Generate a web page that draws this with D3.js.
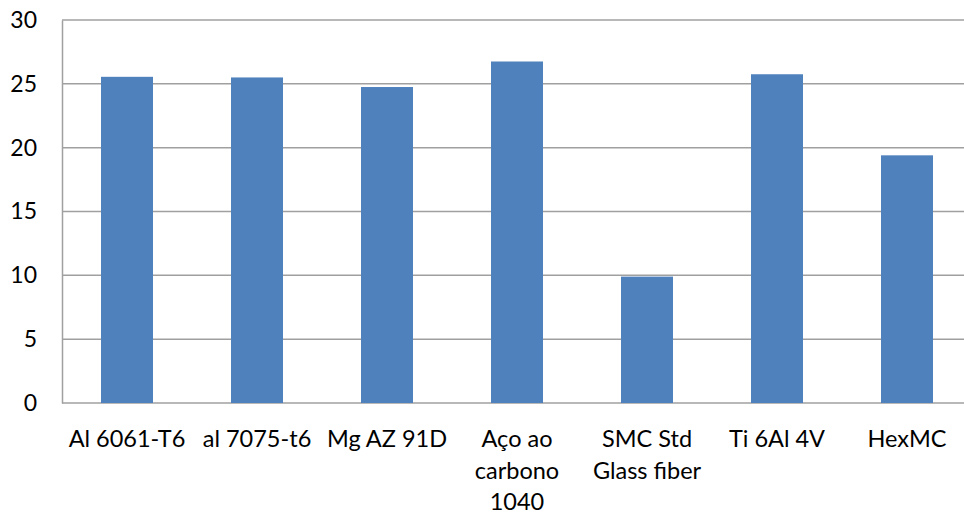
<!DOCTYPE html>
<html>
<head>
<meta charset="utf-8">
<script src="https://cdn.jsdelivr.net/npm/d3@7"></script>
<style>
  html, body { margin: 0; padding: 0; background: #fff; overflow: hidden; }
  svg { display: block; }
  text { font-family: "Lato", "Open Sans", sans-serif; fill: #000; }
</style>
</head>
<body>
<svg id="chart" width="964" height="516"></svg>
<script>
// Material names (each entry split into its display lines) and their values
const categories = [
  ["Al 6061-T6"],
  ["al 7075-t6"],
  ["Mg AZ 91D"],
  ["Aço ao", "carbono", "1040"],
  ["SMC Std", "Glass fiber"],
  ["Ti 6Al 4V"],
  ["HexMC"]
];
const values = [25.55, 25.5, 24.75, 26.75, 9.9, 25.75, 19.4];
const yTicks = [0, 5, 10, 15, 20, 25, 30];

const svg = d3.select("#chart");
const W = 964, H = 516;
const plot = { left: 62, right: 972, top: 20, bottom: 403 };

// The category band runs a little past the right edge of the canvas
const x = d3.scaleBand()
  .domain(categories.map((c, i) => i))
  .range([plot.left, plot.right])
  .paddingInner(0.6)
  .paddingOuter(0.3);

const y = d3.scaleLinear()
  .domain([0, 30])
  .range([plot.bottom, plot.top]);

// Horizontal gridlines
svg.append("g")
  .selectAll("line")
  .data(yTicks)
  .join("line")
  .attr("x1", plot.left)
  .attr("x2", W)
  .attr("y1", d => y(d))
  .attr("y2", d => y(d))
  .attr("stroke", "#a0a0a0")
  .attr("stroke-width", 1.5);

// Y axis
const yAxis = svg.append("g")
  .attr("transform", `translate(${plot.left},0)`)
  .call(d3.axisLeft(y).tickValues(yTicks).tickSize(0).tickPadding(25));
yAxis.select(".domain").attr("stroke", "#a0a0a0").attr("stroke-width", 1.5);
yAxis.selectAll("text")
  .style("font-size", "23px")
  .style("font-family", "Lato, 'Open Sans', sans-serif")
  .attr("fill", "#000");

// Bars
svg.append("g")
  .selectAll("rect")
  .data(values)
  .join("rect")
  .attr("x", (d, i) => x(i))
  .attr("width", x.bandwidth())
  .attr("y", d => y(d))
  .attr("height", d => y(0) - y(d))
  .attr("fill", "#4f81bd");

// Category labels, one tspan per line
const labels = svg.append("g")
  .selectAll("text")
  .data(categories)
  .join("text")
  .attr("text-anchor", "middle")
  .attr("x", (d, i) => x(i) + x.bandwidth() / 2)
  .attr("y", 447)
  .style("font-size", "23.5px");
labels.selectAll("tspan")
  .data(d => d)
  .join("tspan")
  .attr("x", function () { return d3.select(this.parentNode).attr("x"); })
  .attr("dy", (d, i) => i === 0 ? 0 : 31.5)
  .text(d => d);
</script>
</body>
</html>
